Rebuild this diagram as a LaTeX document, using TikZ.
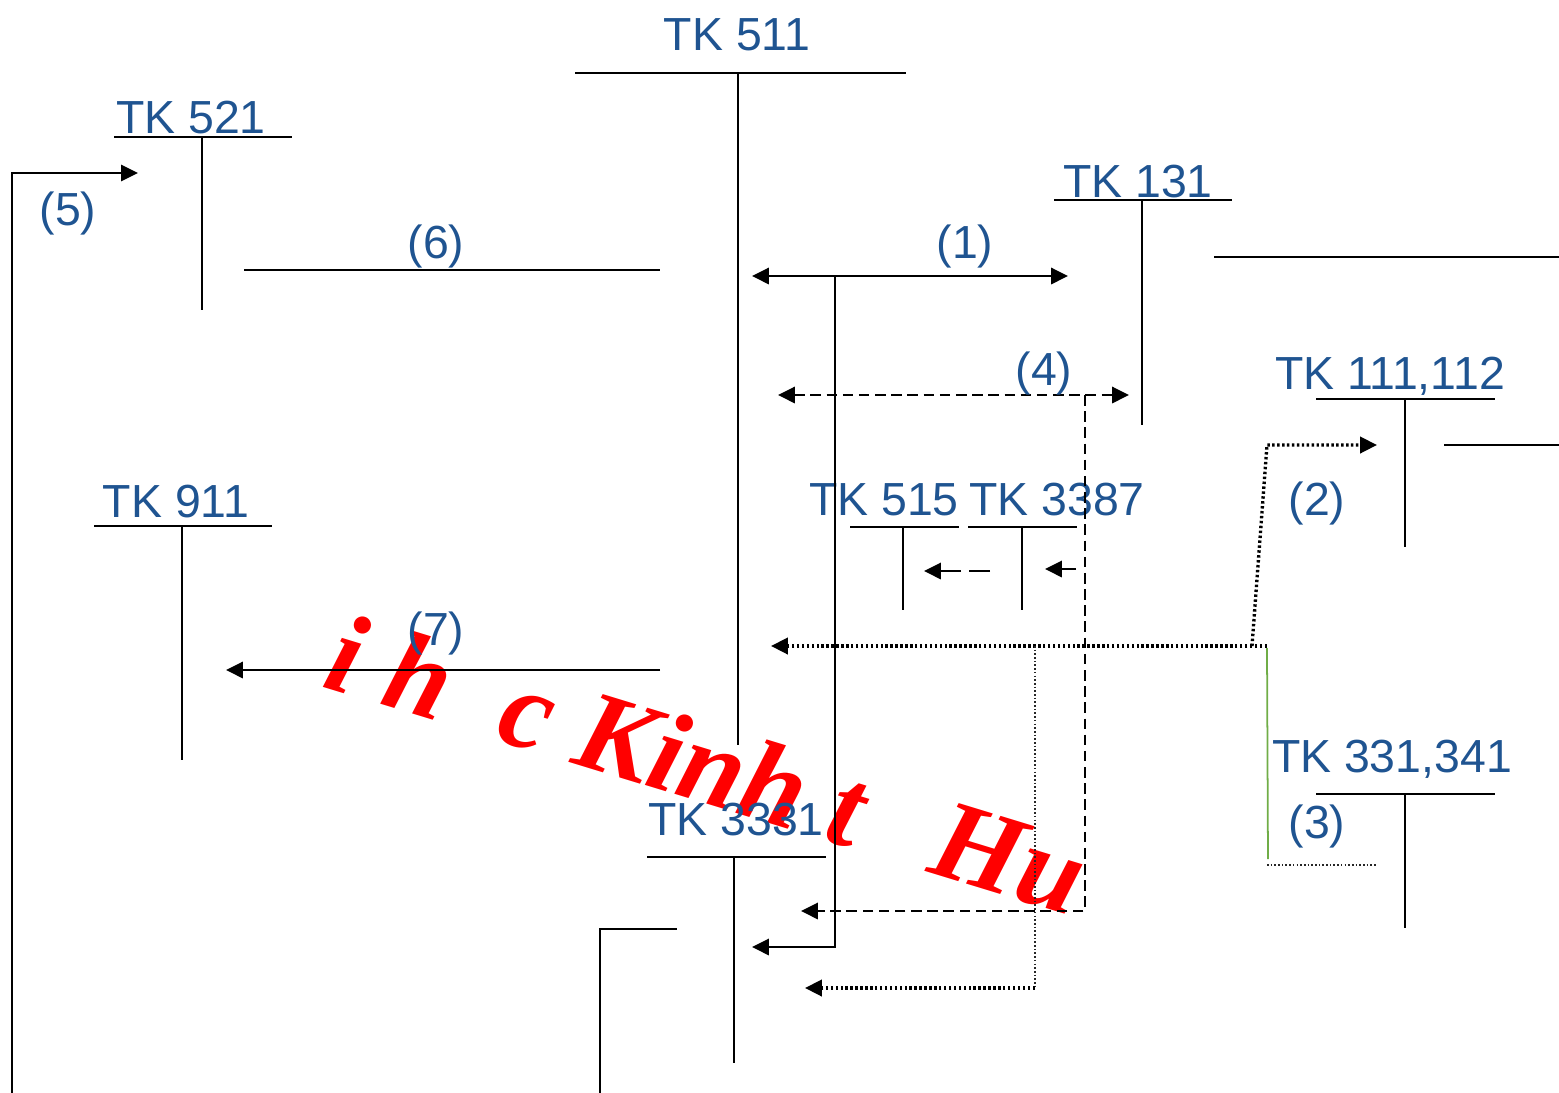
\documentclass[tikz,border=0pt]{standalone}
\usepackage{fontspec}
\setmainfont{Liberation Sans}
\newfontfamily\wmfont{Liberation Serif}
\usetikzlibrary{arrows.meta}
\definecolor{tkblue}{RGB}{31,84,145}
\definecolor{tkgreen}{RGB}{112,173,71}
\definecolor{wmred}{RGB}{255,0,0}

\begin{document}
\begin{tikzpicture}[x=0.01cm,y=-0.01cm,>={Triangle[length=4.8pt,width=4.6pt]},
  acct/.style={text=tkblue,font=\fontsize{13.2}{15}\selectfont,inner sep=0pt,anchor=base},
  tline/.style={line width=0.6pt},
  flow/.style={line width=0.75pt},
  dashflow/.style={line width=0.75pt,dash pattern=on 3pt off 1.6pt},
  dotflow/.style={line width=0.95pt,dash pattern=on 0.7pt off 0.7pt},
  finedot/.style={line width=0.5pt,dash pattern=on 0.45pt off 0.6pt,black!85}]
\useasboundingbox (0,0) rectangle (1559,1093);
% watermark
\node[rotate=-17,anchor=base west,inner sep=0pt,text=wmred,font=\wmfont\bfseries\itshape\fontsize{32.5}{38}\selectfont] (wm) at (320,686) {i h\hspace{0.5em}c Kinh t\hspace{0.42em} Hu};
% T accounts
\node[acct] (tk511) at (737,50) {TK 511};\draw[tline] (575,73)--(906,73) (738,73)--(738,745);
\node[acct] (tk521) at (191,133) {TK 521};\draw[tline] (114,137)--(292,137) (202,137)--(202,310);
\node[acct] (tk131) at (1138,197) {TK 131};\draw[tline] (1054,200)--(1232,200) (1142,200)--(1142,425);
\node[acct] (tk111) at (1390,389) {TK 111,112};\draw[tline] (1316,399)--(1495,399) (1405,399)--(1405,547);
\node[acct] (tk911) at (176,517) {TK 911};\draw[tline] (94,526)--(272,526) (182,526)--(182,760);
\node[acct] (tk515) at (884,515) {TK 515};\draw[tline] (850,527)--(959,527) (903,527)--(903,610);
\node[acct] (tk3387) at (1057,515) {TK 3387};\draw[tline] (968,527)--(1077,527) (1022,527)--(1022,610);
\node[acct] (tk331) at (1392,772) {TK 331,341};\draw[tline] (1316,794)--(1495,794) (1405,794)--(1405,928);
\node[acct] (tk3331) at (736,835) {TK 3331};\draw[tline] (647,857)--(826,857) (734,857)--(734,1063);
\draw[tline] (1214,257)--(1559,257);\draw[tline] (1444,445)--(1559,445);
\draw[tline] (600,1093)--(600,929)--(677,929);
% entries
\coordinate (a1l) at (752,276);\coordinate (a1r) at (1068,276);\coordinate (a1t) at (835,276);\coordinate (a1b) at (835,947);\coordinate (a1e) at (752,947);
\draw[flow,<->] (a1l)--(a1r);\draw[flow,->] (a1t)--(a1b)--(a1e);
\node[acct] (n1) at (965,258) {(1)};
\coordinate (a2s) at (1252,646);\coordinate (a2k) at (1267,445);\coordinate (a2e) at (1377,445);\coordinate (a2r) at (1267,646);\coordinate (a2l) at (771,646);
\draw[dotflow,->] (a2r)--(a2l);\draw[dotflow,->] (a2s)--(a2k)--(a2e);
\node[acct] (n2) at (1317,515) {(2)};
\coordinate (a3t) at (1267,648);\coordinate (a3b) at (1268,859);
\draw[tkgreen,line width=0.5pt] (a3t)--(a3b);\draw[finedot] (1267,865)--(1377,865);
\node[acct] (n3) at (1317,838) {(3)};
\coordinate (a4l) at (778,395);\coordinate (a4r) at (1129,395);\coordinate (a4t) at (1085,395);\coordinate (a4b) at (1085,911);\coordinate (a4e) at (801,911);
\draw[dashflow,<->] (a4l)--(a4r);\draw[dashflow,->] (a4t)--(a4b)--(a4e);
\draw[flow,->,dash pattern=on 6pt off 2.2pt] (990,571)--(924,571);\draw[flow,->] (1076,569)--(1045,569);
\node[acct] (n4) at (1044,385) {(4)};
\coordinate (a5b) at (12,1093);\coordinate (a5k) at (12,173);\coordinate (a5e) at (138,173);
\draw[tline,->] (a5b)--(a5k)--(a5e);
\node[acct] (n5) at (68,225) {(5)};
\draw[tline] (244,270)--(660,270);
\node[acct] (n6) at (436,258) {(6)};
\coordinate (a7s) at (660,670);\coordinate (a7e) at (226,670);
\draw[flow,->] (a7s)--(a7e);
\node[acct] (n7) at (436,645) {(7)};
\coordinate (a8t) at (1035,646);\coordinate (a8b) at (1035,988);\coordinate (a8e) at (805,988);
\draw[finedot] (a8t)--(a8b);\draw[dotflow,->] (a8b)--(a8e);
\end{tikzpicture}
\end{document}
